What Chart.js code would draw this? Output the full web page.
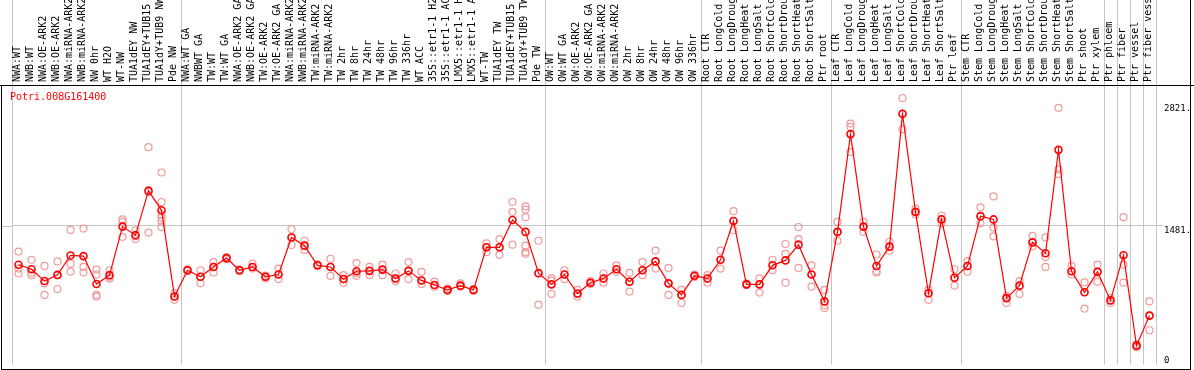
<!DOCTYPE html>
<html>
<head>
<meta charset="utf-8">
<script src="https://cdn.jsdelivr.net/npm/chart.js@4/dist/chart.umd.min.js"></script>
<style>
  html, body { margin: 0; padding: 0; background: #fff; }
  #wrap { width: 1194px; height: 370px; }
</style>
</head>
<body>
<div id="wrap"><canvas id="chart" width="1194" height="370"></canvas></div>
<script>
const geneName = "Potri.008G161400";

const categories = [
  "NWA:WT", "NWB:WT", "NWA:OE-ARK2", "NWB:OE-ARK2", "NWA:miRNA-ARK2", "NWB:miRNA-ARK2", "NW 0hr", "WT H2O", "WT-NW",
  "TUA1dEY NW", "TUA1dEY+TUB15 NW", "TUA1dY+TUB9 NW", "Pde NW",
  "NWA:WT GA", "NWBWT GA", "TW:WT", "TW:WT GA", "NWA:OE-ARK2 GA", "NWB:OE-ARK2 GA", "TW:OE-ARK2", "TW:OE-ARK2 GA",
  "NWA:miRNA-ARK2 GA", "NWB:miRNA-ARK2 GA", "TW:miRNA-ARK2", "TW:miRNA-ARK2", "TW 2hr", "TW 8hr", "TW 24hr", "TW 48hr",
  "TW 96hr", "TW 336hr", "WT ACC", "35S::etr1-1 H2O", "35S::etr1-1 ACC", "LMX5::etr1-1 H2O", "LMX5::etr1-1 ACC",
  "WT-TW", "TUA1dEY TW", "TUA1dEY+TUB15 TW", "TUA1dY+TUB9 TW", "Pde TW",
  "OW:WT", "OW:WT GA", "OW:OE-ARK2", "OW:OE-ARK2 GA", "OW:miRNA-ARK2", "OW:miRNA-ARK2", "OW 2hr", "OW 8hr", "OW 24hr",
  "OW 48hr", "OW 96hr", "OW 336hr",
  "Root CTR", "Root LongCold", "Root LongDrought", "Root LongHeat", "Root LongSalt", "Root ShortCold", "Root ShortDrought",
  "Root ShortHeat", "Root ShortSalt", "Ptr root",
  "Leaf CTR", "Leaf LongCold", "Leaf LongDrought", "Leaf LongHeat", "Leaf LongSalt", "Leaf ShortCold", "Leaf ShortDrought",
  "Leaf ShortHeat", "Leaf ShortSalt", "Ptr leaf",
  "Stem CTR", "Stem LongCold", "Stem LongDrought", "Stem LongHeat", "Stem LongSalt", "Stem ShortCold", "Stem ShortDrought",
  "Stem ShortHeat", "Stem ShortSalt", "Ptr shoot", "Ptr xylem",
  "Ptr phloem", "Ptr fiber", "Ptr vessel", "Ptr fiber vessel"
];

// mean expression per sample (red line)
const meanValues = [
  1056, 1006, 876, 944, 1157, 1150, 844, 941, 1474, 1380, 1869, 1653, 706,
  995, 923, 1031, 1128, 995, 1031, 923, 948, 1355, 1265, 1049, 1031, 898, 984, 988, 1002,
  905, 988, 883, 833, 779, 826, 779, 1247, 1247, 1546, 1416, 963,
  840, 948, 739, 858, 905, 1006, 869, 995, 1092, 851, 724, 934,
  905, 1110, 1535, 840, 840, 1049, 1103, 1276, 948, 653,
  1416, 2490, 1474, 1042, 1254, 2713, 1636, 742, 1553, 913,
  1042, 1589, 1553, 689, 826, 1301, 1182, 2317, 984, 753, 977,
  664, 1160, 167, 497
];

// single replicates per sample (pale circles)
const replicateValues = [
  [1200, 1013, 959], [1110, 967, 941], [1042, 851, 724], [1092, 940, 789], [1438, 1067, 980], [1452, 1031, 970],
  [1002, 948, 724, 706], [995, 923, 905], [1554, 1525, 1362], [1434, 1370, 1337], [2346, 1852, 1409],
  [2068, 1744, 1607, 1570, 1530, 1470], [742, 706, 670],
  [1005, 995, 985], [995, 923, 851], [1085, 1031, 970], [1140, 1128, 1115], [1005, 995, 985], [1067, 1031, 1013],
  [935, 923, 905], [1013, 948, 898], [1445, 1355, 1272], [1319, 1265, 1218], [1060, 1049, 1040], [1121, 1031, 934],
  [941, 898, 858], [1074, 960, 934], [1031, 988, 941], [1056, 1002, 941], [959, 905, 876], [1085, 988, 898],
  [977, 883, 844], [869, 833, 815], [797, 779, 768], [851, 826, 815], [789, 779, 768], [1290, 1247, 1193],
  [1337, 1247, 1164], [1744, 1636, 1276], [1697, 1661, 1578, 1265, 1193, 1175], [1319, 960, 617],
  [905, 880, 735], [995, 948, 898], [779, 735, 706], [876, 858, 845], [959, 905, 858], [1049, 1006, 977],
  [966, 869, 761], [1085, 995, 941], [1211, 1092, 1013], [1020, 851, 724], [779, 724, 635], [948, 934, 920],
  [941, 905, 858], [1211, 1110, 1013], [1643, 1535, 1434], [850, 840, 830], [905, 840, 750], [1110, 1049, 995],
  [1283, 1175, 858], [1470, 1337, 1020], [1049, 948, 815], [779, 610, 581],
  [1525, 1416, 1319], [2605, 2569, 2292], [1525, 1474, 1416], [1168, 985, 970], [1308, 1254, 1211],
  [2886, 2713, 2544], [1672, 1636, 1607], [779, 742, 670], [1596, 1553, 1510], [1006, 913, 826],
  [1096, 1042, 977], [1686, 1589, 1510], [1805, 1463, 1366], [714, 689, 635], [876, 826, 735],
  [1373, 1301, 1258], [1355, 1139, 1031], [2778, 2102, 2051], [1042, 984, 948], [862, 753, 574], [1056, 977, 869],
  [689, 664, 635], [1578, 1056, 858], [185, 167, 149], [653, 497, 336]
];

const yTickValues = [0, 1481, 2821];
const yTickLabels = ["0", "1481.", "2821."];

// first sample index of each group, a grey separator is drawn before it
const groupStarts = [0, 13, 41, 53, 63, 73, 84, 85, 86, 87];

const GRID = "#c4c4c4";
const FONT = { family: "'DejaVu Sans Mono', monospace", size: 10 };

const maxReps = Math.max(...replicateValues.map((r) => r.length));
const repDatasets = [];
for (let k = 0; k < maxReps; k++) {
  repDatasets.push({
    data: replicateValues.map((r) => (r[k] === undefined ? null : r[k])),
    showLine: false,
    pointRadius: 3.5,
    pointBorderWidth: 1.2,
    pointBorderColor: "#f09a9a",
    pointBackgroundColor: "rgba(0,0,0,0)",
  });
}

function separatorColor(ctx) {
  if (ctx.index === undefined) return GRID;
  return groupStarts.includes(ctx.index) ? GRID : "rgba(0,0,0,0)";
}

const framePlugin = {
  id: "frame",
  afterDraw(chart) {
    const ctx = chart.ctx;
    const area = chart.chartArea;
    const yMid = Math.round(chart.scales.y.getPixelForValue(yTickValues[1])) + 0.5;
    ctx.save();
    ctx.strokeStyle = GRID;
    ctx.lineWidth = 1;
    ctx.beginPath();
    ctx.moveTo(1.5, yMid);
    ctx.lineTo(area.left, yMid);
    ctx.stroke();

    ctx.strokeStyle = "#000";
    ctx.beginPath();
    ctx.moveTo(0, 85.5);
    ctx.lineTo(1194, 85.5);
    ctx.moveTo(1.5, 85.5);
    ctx.lineTo(1.5, 370);
    ctx.moveTo(1.5, 369.5);
    ctx.lineTo(1190.5, 369.5);
    ctx.moveTo(1190.5, 0);
    ctx.lineTo(1190.5, 370);
    ctx.stroke();

    ctx.fillStyle = "#ff0000";
    ctx.font = "10px 'DejaVu Sans Mono', monospace";
    ctx.textBaseline = "top";
    ctx.fillText(geneName, 10, 92);
    ctx.restore();
  },
};

new Chart(document.getElementById("chart"), {
  type: "line",
  data: {
    labels: categories,
    datasets: [
      {
        data: meanValues,
        borderColor: "#ff0000",
        borderWidth: 1.2,
        tension: 0,
        pointRadius: 3.5,
        pointBorderWidth: 1.6,
        pointBorderColor: "#ff0000",
        pointBackgroundColor: "rgba(0,0,0,0)",
      },
      ...repDatasets,
    ],
  },
  options: {
    responsive: false,
    animation: false,
    layout: { padding: { left: 12, right: 3, top: 0, bottom: 1 } },
    plugins: { legend: { display: false }, tooltip: { enabled: false } },
    scales: {
      x: {
        position: "top",
        offset: true,
        border: { display: false },
        grid: {
          offset: true,
          color: separatorColor,
          tickColor: separatorColor,
          tickLength: 85,
          lineWidth: 1,
        },
        ticks: {
          autoSkip: false,
          minRotation: 90,
          maxRotation: 90,
          padding: -82,
          labelOffset: 11,
          color: "#000",
          font: FONT,
        },
        afterFit: (scale) => {
          scale.height = 85;
          scale.paddingLeft = 0;
          scale.paddingRight = 0;
        },
      },
      y: {
        position: "right",
        min: -39,
        max: 3029,
        border: { display: false },
        afterBuildTicks: (scale) => {
          scale.ticks = yTickValues.map((v) => ({ value: v }));
        },
        grid: {
          color: (ctx) => (ctx.tick && ctx.tick.value === yTickValues[1] ? GRID : "rgba(0,0,0,0)"),
          tickLength: 7,
        },
        ticks: {
          padding: 1,
          color: "#000",
          font: { family: FONT.family, size: 9, lineHeight: 1 },
          callback: (value, index) => (index === 0 ? yTickLabels[index] : ["", yTickLabels[index]]),
        },
        afterFit: (scale) => {
          scale.width = 35;
          scale.paddingTop = 0;
          scale.paddingBottom = 0;
        },
      },
    },
  },
  plugins: [framePlugin],
});
</script>
</body>
</html>
